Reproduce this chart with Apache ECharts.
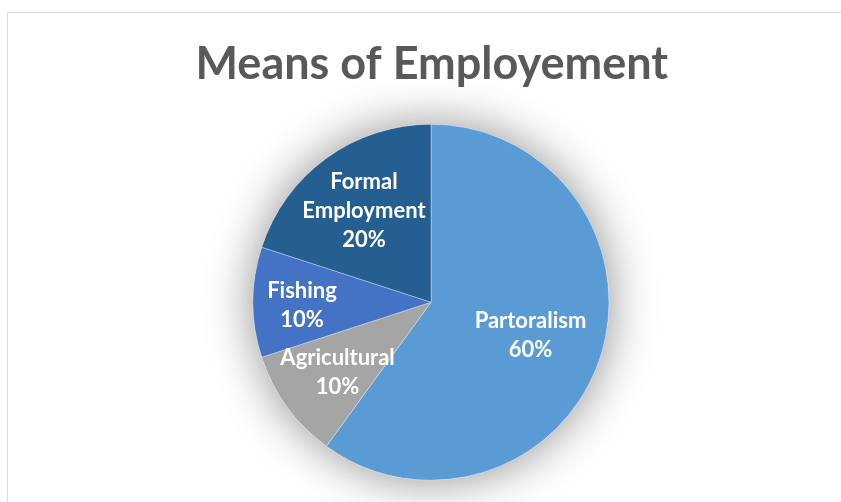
<!DOCTYPE html>
<html>
<head>
<meta charset="utf-8">
<style>
  html, body { margin: 0; padding: 0; background: #ffffff; }
  #frame { position: absolute; left: 7px; top: 12px; width: 900px; height: 600px;
           border: 1.5px solid #d9d9d9; box-sizing: border-box; }
  #chart { position: absolute; left: 0; top: 0; width: 841px; height: 502px; }
</style>
<script src="https://cdn.jsdelivr.net/npm/echarts@6/dist/echarts.min.js"></script>
</head>
<body>
<div id="frame"></div>
<div id="chart"></div>
<script>
// Share of households by main means of employment (percent)
const categories = ['Partoralism', 'Agricultural', 'Fishing', 'Formal Employment'];
const shares = [60, 10, 10, 20];
const sliceColors = ['#5B9BD5', '#A5A5A5', '#4472C4', '#255E91'];
// nudges that move each inside label to its slot in the slice
const labelOffsets = [[12, 5], [-19, 16], [-37, 3], [-13, -17]];

const chart = echarts.init(document.getElementById('chart'), null, { renderer: 'canvas' });

const pieData = categories.map((name, i) => ({
  name: name,
  value: shares[i],
  itemStyle: { color: sliceColors[i] },
  label: { offset: labelOffsets[i] }
}));

const pieCenter = ['51.25%', '60.2%'];
const pieRadius = 178;

chart.setOption({
  animation: false,
  title: {
    text: 'Means of Employement',
    left: '50.75%',
    textAlign: 'center',
    top: 37,
    textStyle: {
      fontFamily: 'Lato',
      fontWeight: 'bold',
      fontSize: 45,
      color: '#595959'
    }
  },
  series: [
    {
      // soft halo behind the whole disc
      type: 'pie',
      silent: true,
      z: 1,
      center: pieCenter,
      radius: pieRadius,
      startAngle: 90,
      label: { show: false },
      labelLine: { show: false },
      itemStyle: {
        color: '#ffffff',
        shadowBlur: 48,
        shadowColor: 'rgba(0,0,0,0.45)'
      },
      data: shares.map((v, i) => ({ name: categories[i], value: v }))
    },
    {
      type: 'pie',
      z: 2,
      center: pieCenter,
      radius: pieRadius,
      startAngle: 90,
      clockwise: true,
      itemStyle: { borderColor: 'rgba(255,255,255,0.6)', borderWidth: 0.6 },
      label: {
        show: true,
        position: 'inside',
        fontFamily: 'Lato',
        fontWeight: 'bold',
        fontSize: 22,
        lineHeight: 29,
        color: '#ffffff',
        align: 'center',
        formatter: p => p.name.replace(' ', '\n') + '\n' + p.percent + '%'
      },
      labelLine: { show: false },
      data: pieData
    }
  ]
});
</script>
</body>
</html>
